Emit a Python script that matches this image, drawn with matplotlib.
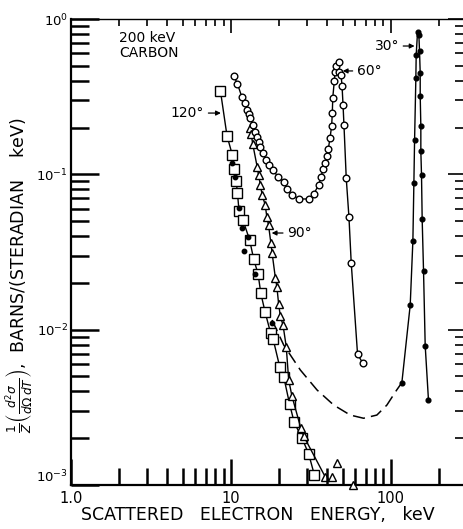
import matplotlib
matplotlib.use("Agg")
import matplotlib.pyplot as plt
from matplotlib.ticker import NullFormatter, LogLocator, FixedLocator, FixedFormatter

# ---------------- data ----------------
# 120 degrees, open squares (keV, barns/(sr keV))
e120 = [8.6, 9.46, 10.2, 10.4, 10.8, 11.0, 11.25, 11.9, 13.1, 13.9, 14.8, 15.4,
        16.4, 17.7, 18.4, 20.2, 21.4, 23.3, 24.9, 27.9, 30.7, 33.3]
s120 = [0.346, 0.177, 0.134, 0.108, 0.0906, 0.0755, 0.058, 0.0508, 0.0378, 0.0284,
        0.0228, 0.0171, 0.0129, 0.00957, 0.00866, 0.00578, 0.00498, 0.00332,
        0.00253, 0.0020, 0.00158, 0.00116]

# filled dots near the 120 degree curve
e_dots = [10.2, 10.6, 11.3, 11.7, 12.8, 12.0, 14.2, 18.1]
s_dots = [0.118, 0.0966, 0.0604, 0.0449, 0.0397, 0.0323, 0.0228, 0.0111]

# 90 degrees, open triangles (connected)
e90 = [13.1, 13.4, 13.7, 14.6, 14.9, 15.3, 15.7, 16.4, 16.8, 17.2, 17.8, 18.1,
       19.0, 19.4, 19.9, 20.4, 21.2, 22.2, 23.0, 24.1, 27.4, 28.5, 38.9]
s90 = [0.198, 0.182, 0.157, 0.112, 0.099, 0.0854, 0.0736, 0.0635, 0.0529, 0.0472,
       0.0360, 0.0313, 0.0214, 0.0189, 0.0146, 0.0122, 0.0107, 0.00778, 0.00474,
       0.00374, 0.00232, 0.00207, 0.00113]
# 90 degrees, isolated triangles
e90_iso = [42.8, 46.1, 58.0]
s90_iso = [0.00113, 0.00139, 0.00100]

# 60 degrees, open circles
e60 = [10.4, 11.0, 11.7, 12.2, 12.7, 13.0, 13.2, 13.7, 14.1, 14.6, 14.9, 15.3,
       15.9, 16.5, 17.2, 18.4, 19.7, 21.4, 22.4, 24.1, 26.8, 30.8, 33.0, 35.4,
       36.6, 37.7, 39.0, 39.9, 40.7, 41.7, 42.7, 43.1, 43.4, 44.4, 44.8, 45.2,
       47.3, 47.3, 48.9, 49.6, 50.3, 51.0, 52.7, 54.8, 56.6, 62.0, 66.9]
s60 = [0.432, 0.382, 0.316, 0.286, 0.260, 0.243, 0.229, 0.208, 0.188, 0.175,
       0.162, 0.149, 0.137, 0.124, 0.115, 0.106, 0.0966, 0.0897, 0.080, 0.0736,
       0.0694, 0.0694, 0.0747, 0.0854, 0.0957, 0.108, 0.119, 0.131, 0.146,
       0.171, 0.205, 0.247, 0.312, 0.401, 0.458, 0.498, 0.526, 0.458, 0.436,
       0.372, 0.281, 0.207, 0.0942, 0.0529, 0.0270, 0.00697, 0.00607]

# 30 degrees, filled dots
e30 = [117.4, 132.4, 137.6, 139.6, 141.0, 143.6, 144.3, 147.1, 150.0, 151.4,
       152.9, 152.9, 154.3, 154.3, 155.8, 157.3, 160.4, 164.3, 172.2]
s30 = [0.00456, 0.0144, 0.0374, 0.0884, 0.166, 0.415, 0.587, 0.821, 0.789,
       0.622, 0.451, 0.321, 0.205, 0.141, 0.099, 0.0513, 0.0239, 0.00789, 0.00353]

# dashed connecting curve
e_dash = [18.1, 21.4, 27.2, 34.6, 44.0, 55.8, 67.6, 81.9, 94.6, 109.0, 117.4]
s_dash = [0.01154, 0.00797, 0.0055, 0.00409, 0.00327, 0.00282, 0.00269,
          0.00282, 0.00327, 0.00409, 0.00456]

x_tick_vals = [1, 10, 100]
x_tick_labels = ["1.0", "10", "100"]
y_tick_vals = [1e-3, 1e-2, 1e-1, 1e0]
y_tick_labels = [r"$10^{-3}$", r"$10^{-2}$", r"$10^{-1}$", r"$10^{0}$"]

# ---------------- figure ----------------
plt.rcParams["font.family"] = ["DejaVu Sans"]
plt.rcParams["mathtext.fontset"] = "dejavusans"

W, H = 464, 529
fig = plt.figure(figsize=(W / 100, H / 100), dpi=100)
left_px, right_px, top_px, bot_px = 71, 467, 19, 485
rect = [left_px / W, 1 - bot_px / H, (right_px - left_px) / W,
        (bot_px - top_px) / H]
XLIM, YLIM = (1, 300), (1e-3, 1)

ax = fig.add_axes(rect)
ax.set_xscale("log")
ax.set_yscale("log")
ax.set_xlim(*XLIM)
ax.set_ylim(*YLIM)

k = "black"
lw = 1.0
ax.plot(e120, s120, color=k, lw=lw, marker="s", ms=6.5, mfc="white", mec=k,
        mew=1.0, clip_on=False, zorder=3)
ax.plot(e_dots, s_dots, ls="none", marker="o", ms=3.2, color=k, zorder=4)
ax.plot(e90, s90, color=k, lw=lw, marker="^", ms=5.5, mfc="white", mec=k,
        mew=1.0, clip_on=False, zorder=3)
ax.plot(e90_iso, s90_iso, ls="none", marker="^", ms=5.5, mfc="white", mec=k,
        mew=1.0, clip_on=False, zorder=3)
ax.plot(e60, s60, color=k, lw=lw, marker="o", ms=4.8, mfc="white", mec=k,
        mew=1.0, zorder=3)
ax.plot(e30, s30, color=k, lw=lw, marker="o", ms=3.4, mfc=k, mec=k, zorder=3)
ax.plot(e_dash, s_dash, color=k, lw=1.1, ls=(0, (8, 4)), zorder=2)

ax.tick_params(which="both", bottom=False, left=False, top=False, right=False,
               labelbottom=False, labelleft=False)
for s in ["left", "bottom"]:
    ax.spines[s].set_linewidth(1.6)
ax.spines["top"].set_linewidth(1.0)
ax.spines["right"].set_linewidth(1.0)


def minor_loc():
    return LogLocator(base=10, subs=range(2, 10), numticks=20)


def overlay(side_x, side_y, lx, ly, labels, tw):
    """Transparent axes on the same place with the same scales, carrying ticks."""
    o = fig.add_axes(rect, facecolor="none")
    o.set_xscale("log")
    o.set_yscale("log")
    o.set_xlim(*XLIM)
    o.set_ylim(*YLIM)
    for sp in o.spines.values():
        sp.set_visible(False)
    o.xaxis.set_major_locator(FixedLocator(x_tick_vals))
    o.xaxis.set_minor_locator(minor_loc())
    o.yaxis.set_major_locator(FixedLocator(y_tick_vals))
    o.yaxis.set_minor_locator(minor_loc())
    o.xaxis.set_minor_formatter(NullFormatter())
    o.yaxis.set_minor_formatter(NullFormatter())
    if labels:
        o.xaxis.set_major_formatter(FixedFormatter(x_tick_labels))
        o.yaxis.set_major_formatter(FixedFormatter(y_tick_labels))
    else:
        o.xaxis.set_major_formatter(NullFormatter())
        o.yaxis.set_major_formatter(NullFormatter())
    o.xaxis.set_ticks_position(side_x)
    o.yaxis.set_ticks_position(side_y)
    o.tick_params(axis="x", which="major", direction="in", length=lx[0],
                  width=tw, color=k, pad=4, labelsize=10.5)
    o.tick_params(axis="x", which="minor", direction="in", length=lx[1],
                  width=tw, color=k)
    o.tick_params(axis="y", which="major", direction="in", length=ly[0],
                  width=tw, color=k, pad=2, labelsize=9.5)
    o.tick_params(axis="y", which="minor", direction="in", length=ly[1],
                  width=tw, color=k)
    return o


ovb = overlay("bottom", "left", (19, 12), (20, 13), True, 1.8)
ovt = overlay("top", "right", (10, 5), (14, 8.5), False, 1.2)
ovb.get_yticklabels()[0].set_va("bottom")

# labels
ax.set_xlabel("SCATTERED   ELECTRON   ENERGY,   keV", fontsize=12.5)
ax.xaxis.set_label_coords(0.473, -0.045)
ax.set_ylabel(r"$\frac{1}{Z}\left(\frac{d^2\sigma}{d\Omega\,dT}\right)$,  "
              r"BARNS/(STERADIAN    keV)", fontsize=12.5)
ax.yaxis.set_label_coords(-0.092, 0.45)

ax.text(0.122, 0.975, "200 keV\nCARBON", transform=ax.transAxes, fontsize=10,
        va="top", ha="left", linespacing=1.15)

arrow = dict(arrowstyle="-|>", color=k, lw=0.9, mutation_scale=7,
             shrinkA=1, shrinkB=0)
ax.annotate("120°", xy=(8.66, 0.248), xytext=(-24, 0), textcoords="offset points",
            ha="center", va="center", fontsize=10, arrowprops=arrow)
ax.annotate("90°", xy=(18.0, 0.0419), xytext=(20, 0), textcoords="offset points",
            ha="center", va="center", fontsize=10, arrowprops=arrow)
ax.annotate("60°", xy=(50.1, 0.463), xytext=(19, 0), textcoords="offset points",
            ha="center", va="center", fontsize=10, arrowprops=arrow)
ax.annotate("30°", xy=(141, 0.67), xytext=(-20, 0), textcoords="offset points",
            ha="center", va="center", fontsize=10, arrowprops=arrow)

fig.savefig("out.png", dpi=100)
